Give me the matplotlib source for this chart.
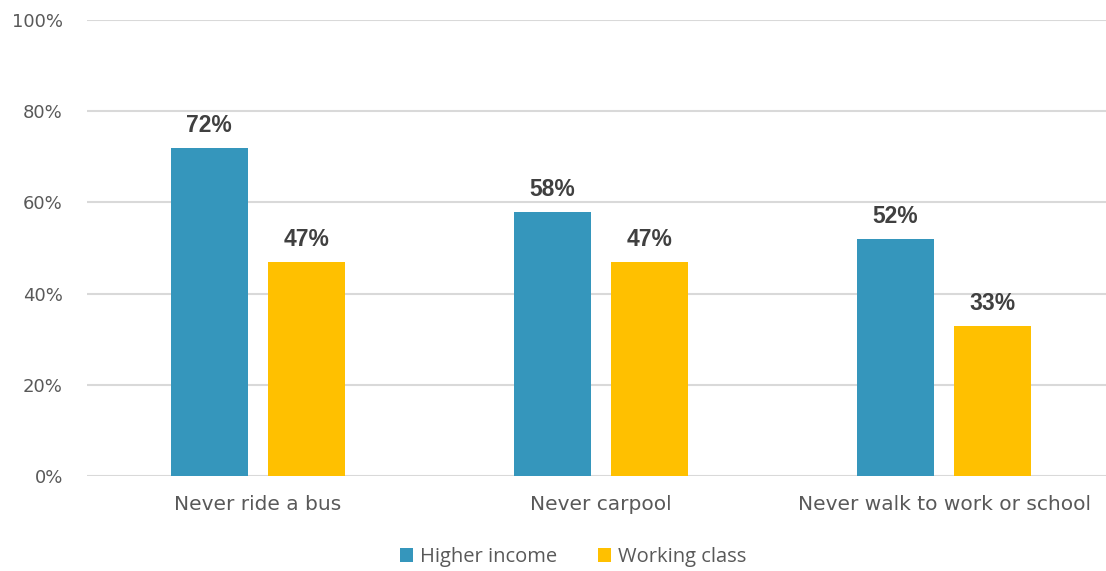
import numpy as np
import matplotlib.pyplot as plt
from matplotlib.ticker import PercentFormatter

categories = ['Never ride a bus', 'Never carpool', 'Never walk to work or school']
higher_income = [72, 58, 52]
working_class = [47, 47, 33]
series_names = ['Higher income', 'Working class']
colors = ['#3596BC', '#FFC000']

fig = plt.figure(figsize=(11.06, 5.71), dpi=100)
ax = fig.add_axes([86.5 / 1106, 95 / 571, 1029 / 1106, 456 / 571])

x = np.arange(len(categories))
w = 0.224
off = 0.142
b1 = ax.bar(x - off, higher_income, w, color=colors[0], label=series_names[0], zorder=3)
b2 = ax.bar(x + off, working_class, w, color=colors[1], label=series_names[1], zorder=3)

for bars in (b1, b2):
    for r in bars:
        ax.annotate(f'{r.get_height():.0f}%', (r.get_x() + r.get_width() / 2, r.get_height()),
                    xytext=(0, 11.5), textcoords='offset points', ha='center', va='baseline',
                    fontsize=16.5, fontweight='bold', color='#404040', family='Liberation Sans')

ax.set_ylim(0, 100)
ax.set_xlim(-0.5, 2.5)
ax.set_yticks(range(0, 101, 20))
ax.yaxis.set_major_formatter(PercentFormatter(decimals=0))
ax.set_xticks(x)
ax.set_xticklabels(categories)
ax.grid(axis='y', color='#D9D9D9', linewidth=1.5, zorder=0)
for s in ax.spines.values():
    s.set_visible(False)
ax.tick_params(length=0, labelcolor='#595959')
ax.tick_params(axis='x', labelsize=14.5, pad=14)
ax.tick_params(axis='y', labelsize=13, pad=17)
for t in ax.get_xticklabels() + ax.get_yticklabels():
    t.set_family('DejaVu Sans')

fig.legend(loc='center', bbox_to_anchor=(573 / 1106, 1 - 557 / 571), ncol=2, frameon=False,
           prop={'family': 'Open Sans', 'size': 14.5}, labelcolor='#595959',
           handlelength=0.65, handleheight=0.65, handletextpad=0.35, columnspacing=2.0)

fig.savefig('out.png', dpi=100)
